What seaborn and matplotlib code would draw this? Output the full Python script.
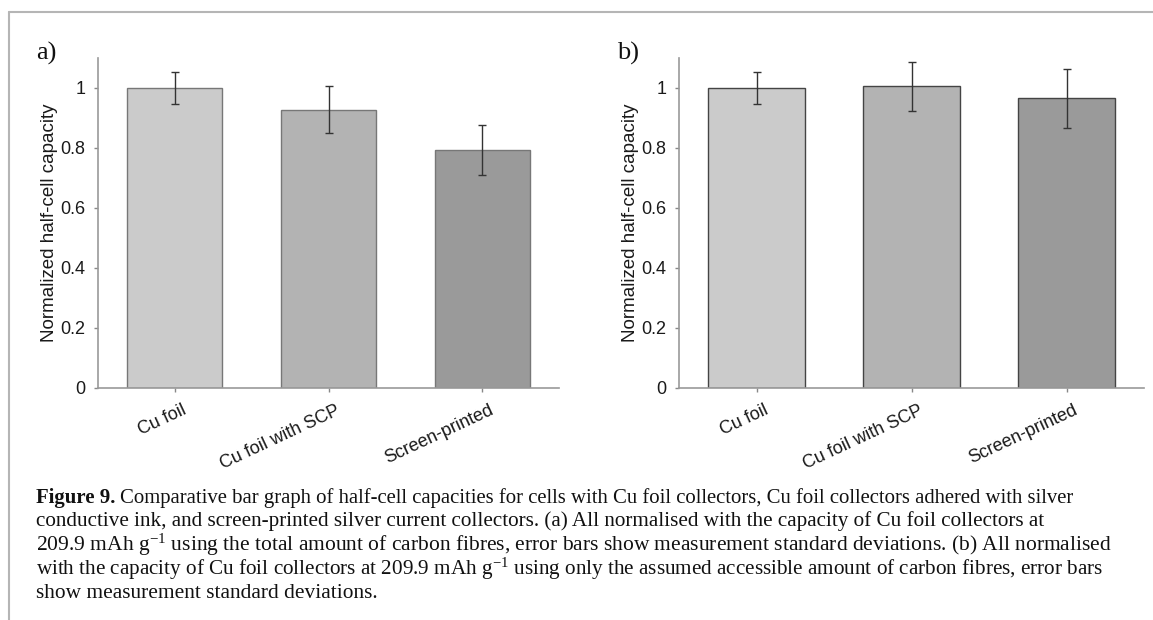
import numpy as np
import pandas as pd
import matplotlib
matplotlib.use("Agg")
import matplotlib.pyplot as plt
import seaborn as sns
from matplotlib.lines import Line2D
from matplotlib.transforms import ScaledTranslation

# --- DATA ---
categories = ["Cu foil", "Cu foil with SCP", "Screen-printed"]
capacity_total = [1.000, 0.928, 0.794]      # panel a
std_total = [0.052, 0.077, 0.084]
capacity_accessible = [1.000, 1.006, 0.966]  # panel b
std_accessible = [0.052, 0.082, 0.098]
y_ticks = [0, 0.2, 0.4, 0.6, 0.8, 1]
y_tick_labels = ["0", "0.2", "0.4", "0.6", "0.8", "1"]
bar_colors = ["#cbcbcb", "#b3b3b3", "#9a9a9a"]

caption_lines = [
    "Comparative bar graph of half-cell capacities for cells with Cu foil collectors, Cu foil collectors adhered with silver",
    "conductive ink, and screen-printed silver current collectors. (a) All normalised with the capacity of Cu foil collectors at",
    "209.9 mAh g$^{-1}$ using the total amount of carbon fibres, error bars show measurement standard deviations. (b) All normalised",
    "with the capacity of Cu foil collectors at 209.9 mAh g$^{-1}$ using only the assumed accessible amount of carbon fibres, error bars",
    "show measurement standard deviations.",
]
# right edge (px) each caption line reaches in the original layout
caption_right = [1082, 1044, 1109, 1105, 377]
# -------------

sns.set_style("white")
plt.rcParams["font.family"] = ["Liberation Sans", "DejaVu Sans"]
plt.rcParams["mathtext.fontset"] = "custom"
plt.rcParams["mathtext.rm"] = "Liberation Serif"
plt.rcParams["mathtext.it"] = "Liberation Serif:italic"

W, H = 1153, 620
fig = plt.figure(figsize=(W / 100, H / 100), dpi=100)


def px_axes(left, right, top, bottom):
    return fig.add_axes([left / W, 1 - bottom / H, (right - left) / W, (bottom - top) / H])


def draw_panel(ax, values, errors, edge, tag, tag_x):
    df = pd.DataFrame({"collector": categories, "capacity": values})
    sns.barplot(data=df, x="collector", y="capacity", hue="collector",
                palette=bar_colors, order=categories, width=0.62,
                edgecolor=edge, linewidth=1.0, legend=False, ax=ax)
    ax.errorbar(np.arange(len(categories)), values, yerr=errors, fmt="none",
                ecolor="#333333", elinewidth=1.0, capsize=3, capthick=1.0)
    ax.set_xlim(-0.5, len(categories) - 0.5)
    ax.set_ylim(0, 1.1)
    ax.set_yticks(y_ticks)
    ax.set_yticklabels(y_tick_labels)
    ax.set_xticks(np.arange(len(categories)))
    ax.set_xticklabels(categories, rotation=25, ha="right", rotation_mode="anchor")
    ax.tick_params(axis="both", direction="out", length=3, width=1, color="#888888",
                   labelsize=13, labelcolor="#1a1a1a", left=True, bottom=True)
    ax.tick_params(axis="y", pad=6)
    ax.tick_params(axis="x", pad=7)
    shift = ScaledTranslation(5 / 72, 0, fig.dpi_scale_trans)
    for lab in ax.get_xticklabels():
        lab.set_transform(lab.get_transform() + shift)
    ax.set_xlabel("")
    ax.set_ylabel("Normalized half-cell capacity", fontsize=13.5, color="#1a1a1a", labelpad=2)
    for side in ["top", "right"]:
        ax.spines[side].set_visible(False)
    for side in ["left", "bottom"]:
        ax.spines[side].set_color("#999999")
        ax.spines[side].set_linewidth(1.2)
    fig.text(tag_x / W, 1 - 53 / H, tag, family="Liberation Serif", fontsize=19,
             va="center", ha="left", color="#111111")


ax_a = px_axes(98, 559, 58, 388)
draw_panel(ax_a, capacity_total, std_total, "#777777", "a)", 36)
ax_b = px_axes(679, 1144, 58, 388)
draw_panel(ax_b, capacity_accessible, std_accessible, "#444444", "b)", 617)

# frame lines of the figure box
fig.add_artist(Line2D([9 / W, 9 / W], [0, 1 - 12 / H], transform=fig.transFigure,
                      color="#b5b5b5", lw=1.5))
fig.add_artist(Line2D([9 / W, 1], [1 - 12 / H, 1 - 12 / H], transform=fig.transFigure,
                      color="#b5b5b5", lw=1.5))

# caption: each line sized so it ends where the original does
cap_x = 36
cap_y = [498, 521.5, 545, 569, 593]
cap_size = 15.3
fig.canvas.draw()
renderer = fig.canvas.get_renderer()
bold = fig.text(cap_x / W, 1 - cap_y[0] / H, "Figure 9.", family="Liberation Serif",
                fontsize=cap_size, weight="bold", va="center", ha="left", color="#111111")
for i, line in enumerate(caption_lines):
    start = cap_x
    if i == 0:
        start = bold.get_window_extent(renderer=renderer).x1 + 5
    t = fig.text(start / W, 1 - cap_y[i] / H, line, family="Liberation Serif",
                 fontsize=cap_size, va="center", ha="left", color="#111111")
    width = t.get_window_extent(renderer=renderer).width
    size = cap_size * (caption_right[i] - cap_x) / (width + start - cap_x)
    if i == 0:
        bold.set_fontsize(size)
        start = bold.get_window_extent(renderer=renderer).x1 + 5
        t.set_x(start / W)
    t.set_fontsize(size)

fig.savefig("out.png", dpi=100)
